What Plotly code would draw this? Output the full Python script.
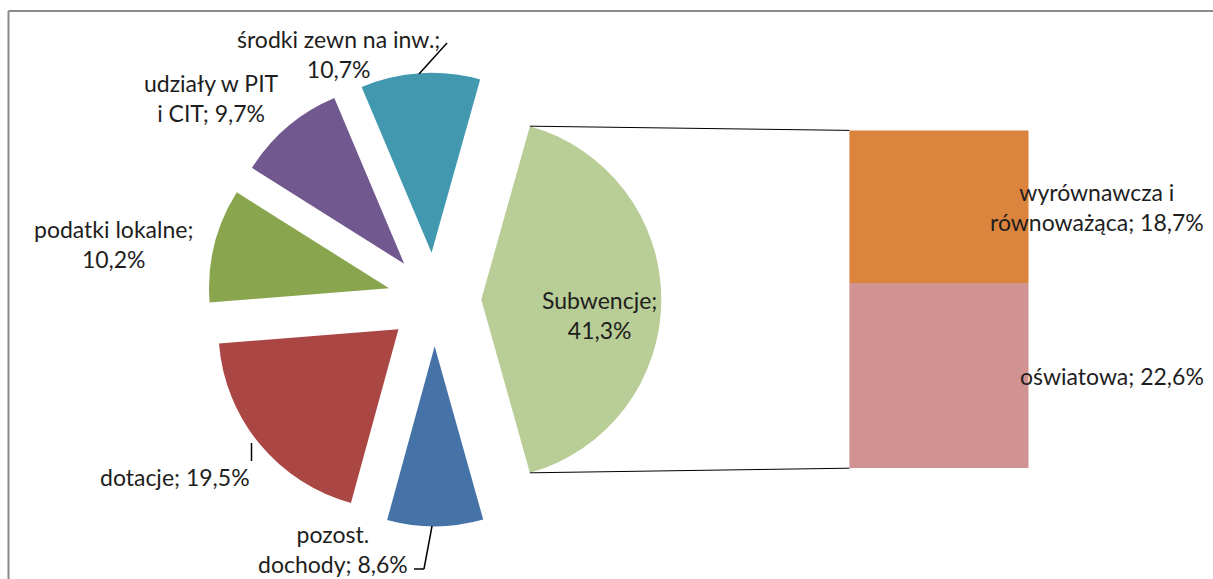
import math
import plotly.graph_objects as go

# ---------------- data ----------------
pie_labels = ["Subwencje", "pozost. dochody", "dotacje", "podatki lokalne",
              "udziały w PIT i CIT", "środki zewn na inw."]
pie_values = [41.3, 8.6, 19.5, 10.2, 9.7, 10.7]
pie_texts = ["Subwencje;<br>41,3%", "pozost.<br>dochody; 8,6%", "dotacje; 19,5%",
             "podatki lokalne;<br>10,2%", "udziały w PIT<br>i CIT; 9,7%",
             "środki zewn na inw.;<br>10,7%"]

bar_labels = ["oświatowa", "wyrównawcza i równoważąca"]
bar_values = [22.6, 18.7]
bar_texts = ["oświatowa; 22,6%", "wyrównawcza i<br>równoważąca; 18,7%"]

# ---------------- styles / layout ----------------
pie_colors = ["#B9CD96", "#4572A7", "#AA4643", "#89A54E", "#71588F", "#4198AF"]
bar_colors = ["#D19392", "#DB843D"]
W, H = 1213, 579
FONT = "Lato, Carlito, Calibri, sans-serif"
TXT = "#1e1e1e"
FS = 23

# geometry in window pixels
cx, cy, r, pull = 434.5, 299.5, 180.0, 0.26
bar_x0, bar_x1, bar_y0, bar_y1 = 849.4, 1028.5, 130.4, 468.2


def px(x):
    return x / W


def py(y):
    return 1 - y / H


half = r * (1 + pull)
total = sum(pie_values)
rotation = 90 - pie_values[0] / total * 360 / 2

fig = go.Figure()
fig.add_trace(go.Pie(
    labels=pie_labels, values=pie_values, sort=False, direction="clockwise",
    rotation=rotation, pull=[pull] * len(pie_values),
    marker=dict(colors=pie_colors, line=dict(width=0)),
    textinfo="none", hoverinfo="label+percent", showlegend=False,
    domain=dict(x=[px(cx - half), px(cx + half)], y=[py(cy + half), py(cy - half)]),
))

for lab, val, col in zip(bar_labels, bar_values, bar_colors):
    fig.add_trace(go.Bar(x=[0], y=[val], name=lab, width=1,
                         marker=dict(color=col, line=dict(width=0)),
                         showlegend=False, hoverinfo="name+y", xaxis="x", yaxis="y"))

bar_total = sum(bar_values)
fig.update_layout(
    width=W, height=H, autosize=False, margin=dict(l=0, r=0, t=0, b=0),
    paper_bgcolor="white", plot_bgcolor="rgba(0,0,0,0)", barmode="stack",
    xaxis=dict(domain=[px(bar_x0), px(bar_x1)], range=[-0.5, 0.5], visible=False, fixedrange=True),
    yaxis=dict(domain=[py(bar_y1), py(bar_y0)], range=[0, bar_total], visible=False, fixedrange=True),
    font=dict(family=FONT, size=FS, color=TXT),
)

# connector lines from the Subwencje slice corners to the bar
tipx = cx + pull * r
a0 = math.radians(rotation)
a1 = math.radians(rotation + pie_values[0] / total * 360)
top_corner = (tipx + r * math.sin(a0), cy - r * math.cos(a0))
bot_corner = (tipx + r * math.sin(a1), cy - r * math.cos(a1))
shapes = [
    dict(type="line", xref="paper", yref="paper", x0=px(top_corner[0]), y0=py(top_corner[1]),
         x1=px(bar_x0), y1=py(bar_y0), line=dict(color="black", width=1)),
    dict(type="line", xref="paper", yref="paper", x0=px(bot_corner[0]), y0=py(bot_corner[1]),
         x1=px(bar_x0), y1=py(bar_y1), line=dict(color="black", width=1)),
    # chart frame
    dict(type="line", xref="paper", yref="paper", x0=px(8.5), y0=py(11), x1=1.0, y1=py(11),
         line=dict(color="#8a8a8a", width=2)),
    dict(type="line", xref="paper", yref="paper", x0=px(8.5), y0=py(11), x1=px(8.5), y1=0.0,
         line=dict(color="#8a8a8a", width=2)),
]

# leader lines
leaders = [
    [(447, 43), (419, 74)],
    [(251.5, 443), (251.5, 461)],
    [(414, 569), (424, 569), (432, 526)],
]
for pts in leaders:
    for (x0, y0), (x1, y1) in zip(pts[:-1], pts[1:]):
        shapes.append(dict(type="line", xref="paper", yref="paper", x0=px(x0), y0=py(y0),
                           x1=px(x1), y1=py(y1), line=dict(color="black", width=1.5)))
fig.update_layout(shapes=shapes)

# pie data labels (positions in window px)
pie_label_pos = [(599, 315), (333, 549), (174.5, 477), (113, 244), (211, 98), (338, 54)]
ann = []
for t, (x, y) in zip(pie_texts, pie_label_pos):
    ann.append(dict(text=t, xref="paper", yref="paper", x=px(x), y=py(y), showarrow=False,
                    xanchor="center", yanchor="middle", align="center"))

# bar data labels: vertically centred on each segment
bar_label_x = [1112, 1096.5]
base = 0
for t, v, x in zip(bar_texts, bar_values, bar_label_x):
    ann.append(dict(text=t, xref="paper", yref="y", x=px(x), y=base + v / 2, showarrow=False,
                    xanchor="center", yanchor="middle", align="center"))
    base += v
fig.update_layout(annotations=ann)

# place the figure at the page origin (no default body margin / scrollbars)
page_css = ("document.body.style.margin='0';"
            "document.documentElement.style.overflow='hidden';"
            "document.body.style.overflow='hidden';")
fig.write_html("out.html", post_script=page_css, config={"displayModeBar": False})
